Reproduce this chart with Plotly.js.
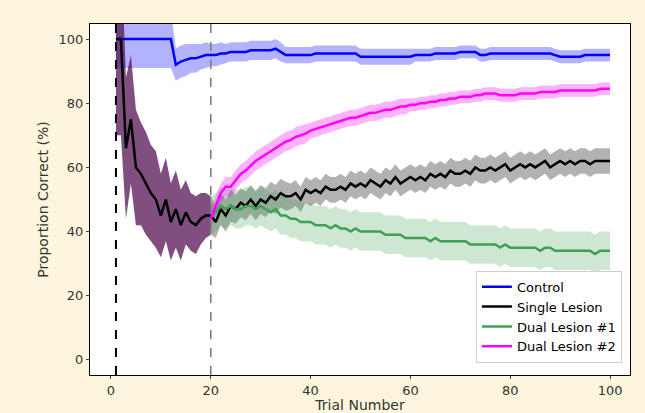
<!DOCTYPE html>
<html>
<head>
<script src="https://cdn.plot.ly/plotly-3.0.1.min.js"></script>
<style>body{margin:0;background:#fdf6dc;}</style>
</head>
<body>
<div id="chart" style="width:645px;height:413px;"></div>
<script>
// Trials 1..100
var control = [100,100,100,100,100,100,100,100,100,100,100,100,92,93,93.5,94,94,94.5,95,95,
  95,95.5,95.5,96,96,96,96,96.5,96.5,96.5,96.5,96.5,97,96,95,95,95,95,95,95,
  95.5,95.5,95.5,95.5,95.5,95.5,95.5,95.5,95.5,94.5,94.5,94.5,94.5,94.5,94.5,94.5,94.5,94.5,94.5,94.5,
  95,95,95,95,95.5,95.5,95.5,95.5,95.5,96,96,96,96,95,95,95.5,95.5,95.5,95.5,95.5,
  95.5,95.5,95.5,95.5,95.5,95.5,95.5,95.5,95,94.5,94.5,94.5,94.5,94.5,95,95,95,95,95,95];
var controlErr = [9,9,9,9,9,9,9,9,9,9,9,9,5,5,5,4.5,4.5,4,4,3.5,
  3.5,3.5,3,3,3,3,3,3,3,3,3,3,3,3,2.5,2.5,2.5,2.5,2.5,2.5,
  2.5,2.5,2.5,2.5,2.5,2.5,2.5,2.5,2.5,2.5,2.5,2.5,2.5,2.5,2.5,2.5,2.5,2.5,2.5,2.5,
  2,2,2,2,2,2,2,2,2,2,2,2,2,2,2,2,2,2,2,2,
  2,2,2,2,2,2,2,2,2,2,2,2,2,2,2,2,2,2,2,2];

var single = [100,100,66,75,60,58,55,52,50,45,50,43,47,42,46,43,42,44,45,45,
  43,47,45,48,47,49,48,50,48,50,49,51,50,52,51,51,52,50,53,52,
  53,52,54,53,53,54,53,55,54,55,54,56,55,54,56,55,57,55,56,57,
  56,57,56,58,57,58,57,59,58,58,59,58,60,59,59,60,59,60,61,59,
  60,61,60,61,60,61,62,60,61,62,61,62,61,62,62,61,62,62,62,62];
var singleErr = [30,30,22,20,18,16,16,15,15,13,13,12,12,11,10,9,9,8,7,6,
  5,5,5,5,4.5,4.5,4.5,4.5,4.5,4.5,4.5,4.5,4.5,4.5,4.5,4,4,4,4,4,
  4,4,4,4,4,4,4,4,4,4,4,4,4,4,4,4,4,4,4,4,
  4,4,4,4,4,4,4,4,4,4,4,4,4,4,4,4,4,4,4,4,
  4,4,4,4,4,4,4,4,4,4,4,4,4,4,4,4,4,4,4,4];

// Dual lesions start at trial 20
var dual1 = [45,46,48,47,48,47,47,48,48,47,48,47,46,47,45,45,44,44,43,43,
  43,42,42,42,41,42,41,41,40,41,40,40,40,40,40,39,39,39,39,38,
  38,38,38,38,37,38,37,37,37,37,37,37,36,36,36,36,36,36,35,36,
  35,35,35,35,35,35,34,35,35,34,34,34,34,34,34,34,34,33,34,34,34];
var dual1Err = [6,6,6,6,6,6,6,6,6,6,6,6,6,6,6,6,6,6,6,6,
  6,6,6,6,6,6,6,6,6,6,6,6,6,6,6,6,6,6,6,6,
  6,6,6,6,6,6,6,6,6,6,6,6,6,6,6,6,6,6,6,6,
  6,6,6,6,6,6,6,6,6,6,6,6,6,6,6,6,6,6,6,6,6];
var dual2 = [44,48,52,54,54,56,58,59,60.5,62,63,64,65,66,67,68,68.5,69.5,70,70.5,
  71.5,72,72.5,73,73.5,74,74.5,75,75.5,75.5,76,76.5,77,77,77.5,78,78,78.5,79,79,
  79.5,79.5,80,80,80.5,80.5,81,81,81.5,81.5,82,82,82,82.5,82.5,83,83,83,82.5,82.5,
  82.5,82.5,83,83,83,83,83.5,83.5,83.5,83.5,84,84,84,84,84,84,84,84,84.5,84.5,84.5];
var dual2Err = [3,3,3,3,3,3,3,3,3,3,3,3,3,3,3,3,3,3,3,3,
  2.5,2.5,2.5,2.5,2.5,2.5,2.5,2.5,2.5,2.5,2.5,2.5,2.5,2.5,2.5,2.5,2.5,2.5,2.5,2.5,
  2,2,2,2,2,2,2,2,2,2,2,2,2,2,2,2,2,2,2,2,
  2,2,2,2,2,2,2,2,2,2,2,2,2,2,2,2,2,2,2,2,2];

function range(a, b) { var r = []; for (var i = a; i <= b; i++) r.push(i); return r; }
var trials = range(1, 100);
var trials2 = range(20, 100);

function band(x, y, e, fill) {
    var up = y.map(function(v, i) { return v + e[i]; });
    var lo = y.map(function(v, i) { return v - e[i]; });
    return [
        {x: x, y: lo, mode: 'lines', line: {width: 0}, showlegend: false, hoverinfo: 'skip'},
        {x: x, y: up, mode: 'lines', line: {width: 0}, fill: 'tonexty', fillcolor: fill, showlegend: false, hoverinfo: 'skip'}
    ];
}

var traces = [];
traces = traces.concat(band(trials, control, controlErr, 'rgba(0,0,255,0.3)'));
traces = traces.concat(band(trials.slice(0, 20), single.slice(0, 20), singleErr.slice(0, 20), 'rgba(85,20,85,0.75)'));
traces = traces.concat(band(trials.slice(19), single.slice(19), singleErr.slice(19), 'rgba(0,0,0,0.3)'));
traces = traces.concat(band(trials2, dual1, dual1Err, 'rgba(60,160,80,0.25)'));
traces = traces.concat(band(trials2, dual2, dual2Err, 'rgba(255,0,255,0.3)'));
traces.push({x: trials, y: control, mode: 'lines', name: 'Control', line: {color: '#0000ff', width: 2.5}});
traces.push({x: trials, y: single, mode: 'lines', name: 'Single Lesion', line: {color: '#000000', width: 2.5}});
traces.push({x: trials2, y: dual1, mode: 'lines', name: 'Dual Lesion #1', line: {color: '#3f9f55', width: 2.5}});
traces.push({x: trials2, y: dual2, mode: 'lines', name: 'Dual Lesion #2', line: {color: '#ff00ff', width: 2.5}});

var layout = {
    width: 645, height: 413,
    margin: {l: 90, r: 15, t: 24, b: 38},
    paper_bgcolor: '#fdf6dc',
    plot_bgcolor: '#ffffff',
    font: {family: 'DejaVu Sans, sans-serif', size: 13, color: '#333'},
    xaxis: {
        range: [-4.2, 104], tickvals: [0, 20, 40, 60, 80, 100],
        showgrid: false, zeroline: false, ticks: 'outside', ticklen: 3,
        showline: true, mirror: true, linecolor: '#000', linewidth: 1.2,
        automargin: false,
        title: {text: 'Trial Number', font: {size: 14}, standoff: 0}
    },
    yaxis: {
        range: [-4.7, 104.7], tickvals: [0, 20, 40, 60, 80, 100],
        showgrid: false, zeroline: false, ticks: 'outside', ticklen: 3,
        showline: true, mirror: true, linecolor: '#000', linewidth: 1.2,
        title: {text: 'Proportion Correct (%)', font: {size: 14}, standoff: 6}
    },
    shapes: [
        {type: 'line', x0: 1, x1: 1, yref: 'paper', y0: 0, y1: 1, line: {color: '#000', width: 2, dash: 'dash'}},
        {type: 'line', x0: 20, x1: 20, yref: 'paper', y0: 0, y1: 1, line: {color: '#777', width: 1.5, dash: 'dash'}}
    ],
    legend: {
        x: 0.985, y: 0.035, xanchor: 'right', yanchor: 'bottom', traceorder: 'normal',
        bgcolor: '#ffffff', bordercolor: '#ccc', borderwidth: 1,
        font: {size: 13, color: '#000'}, tracegroupgap: 0
    }
};

Plotly.newPlot('chart', traces, layout, {displayModeBar: false});
</script>
</body>
</html>
